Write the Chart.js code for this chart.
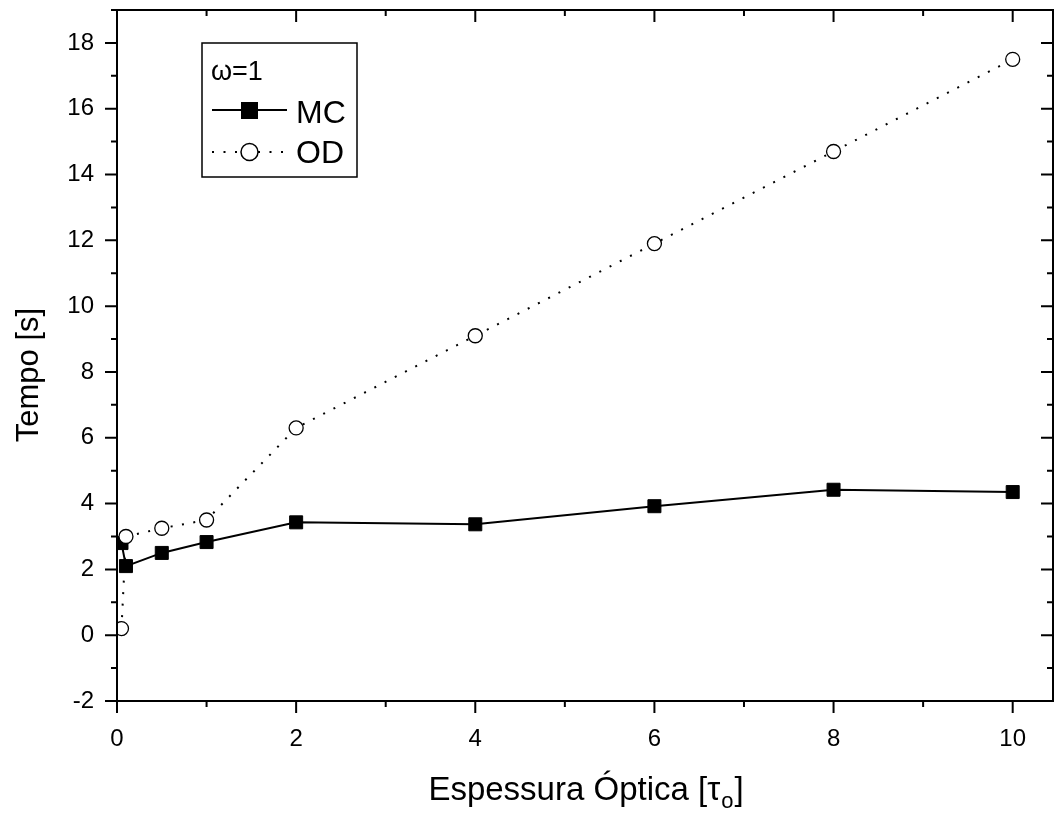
<!DOCTYPE html>
<html>
<head>
<meta charset="utf-8">
<script src="https://cdn.jsdelivr.net/npm/chart.js@4.4.0/dist/chart.umd.min.js"></script>
<style>
  html, body { margin: 0; padding: 0; background: #fff; }
  #wrap { width: 1054px; height: 814px; }
</style>
</head>
<body>
<div id="wrap"><canvas id="myChart" width="1054" height="814"></canvas></div>
<script>
// optical thickness values and computing times
var tau = [0.05, 0.1, 0.5, 1, 2, 4, 6, 8, 10];
var tempoMC = [2.8, 2.1, 2.5, 2.83, 3.43, 3.37, 3.92, 4.42, 4.35];
var tempoOD = [0.2, 3.0, 3.25, 3.5, 6.3, 9.1, 11.9, 14.7, 17.5];

var xTicks = [0, 2, 4, 6, 8, 10];
var yTicks = [-2, 0, 2, 4, 6, 8, 10, 12, 14, 16, 18];

var FONT = '"Liberation Sans", Arial, sans-serif';

function pts(xs, ys) {
  var out = [];
  for (var i = 0; i < xs.length; i++) out.push({x: xs[i], y: ys[i]});
  return out;
}

// frame, minor/major ticks, titles and the legend box
var frame = {
  id: 'frame',
  afterDraw: function(chart) {
    var ctx = chart.ctx;
    var a = chart.chartArea;
    var sx = chart.scales.x, sy = chart.scales.y;
    ctx.save();
    ctx.strokeStyle = '#000';
    ctx.lineWidth = 2;
    ctx.strokeRect(a.left, a.top, a.right - a.left, a.bottom - a.top);

    ctx.beginPath();
    for (var v = 0; v <= sx.max; v += 1) {
      var px = sx.getPixelForValue(v);
      var len = (v % 2 === 0) ? 12 : 6;
      ctx.moveTo(px, a.bottom); ctx.lineTo(px, a.bottom + len);
      ctx.moveTo(px, a.top); ctx.lineTo(px, a.top + len);
    }
    for (var w = -2; w <= sy.max; w += 1) {
      var py = sy.getPixelForValue(w);
      var l2 = (Math.abs(w) % 2 === 0) ? 12 : 6;
      ctx.moveTo(a.left, py); ctx.lineTo(a.left - l2, py);
      ctx.moveTo(a.right, py); ctx.lineTo(a.right - l2, py);
    }
    ctx.stroke();

    // x title with subscript
    ctx.fillStyle = '#000';
    ctx.textBaseline = 'alphabetic';
    ctx.textAlign = 'left';
    var t1 = 'Espessura Óptica [\u03C4', t2 = 'o', t3 = ']';
    ctx.font = '33px ' + FONT;
    var w1 = ctx.measureText(t1).width, w3 = ctx.measureText(t3).width;
    ctx.font = '22px ' + FONT;
    var w2 = ctx.measureText(t2).width;
    var x0 = (a.left + a.right) / 2 - (w1 + w2 + w3) / 2;
    ctx.font = '33px ' + FONT;
    ctx.fillText(t1, x0, 800);
    ctx.font = '22px ' + FONT;
    ctx.fillText(t2, x0 + w1 + 1, 808);
    ctx.font = '33px ' + FONT;
    ctx.fillText(t3, x0 + w1 + w2 + 2, 800);

    // y title
    ctx.save();
    ctx.translate(38, 375);
    ctx.rotate(-Math.PI / 2);
    ctx.textAlign = 'center';
    ctx.font = '31px ' + FONT;
    ctx.fillText('Tempo [s]', 0, 0);
    ctx.restore();

    // legend
    ctx.fillStyle = '#fff';
    ctx.fillRect(202, 43, 155, 134);
    ctx.lineWidth = 1.5;
    ctx.strokeRect(202, 43, 155, 134);
    ctx.fillStyle = '#000';
    ctx.font = '27px ' + FONT;
    ctx.fillText('\u03C9=1', 211, 80);

    ctx.lineWidth = 2;
    ctx.beginPath();
    ctx.moveTo(212, 110); ctx.lineTo(287, 110);
    ctx.stroke();
    ctx.fillRect(241, 102, 17, 17);

    ctx.setLineDash([2, 9.5]);
    ctx.beginPath();
    ctx.moveTo(212, 152); ctx.lineTo(287, 152);
    ctx.stroke();
    ctx.setLineDash([]);
    ctx.beginPath();
    ctx.arc(249.5, 152, 8.5, 0, Math.PI * 2);
    ctx.fillStyle = '#fff';
    ctx.fill();
    ctx.lineWidth = 1.5;
    ctx.stroke();

    ctx.fillStyle = '#000';
    ctx.font = '32px ' + FONT;
    ctx.fillText('MC', 296, 123);
    ctx.fillText('OD', 296, 163);
    ctx.restore();
  }
};

const ctx = document.getElementById('myChart').getContext('2d');
const myChart = new Chart(ctx, {
  type: 'line',
  data: {
    datasets: [{
      label: 'MC',
      data: pts(tau, tempoMC),
      borderColor: '#000',
      borderWidth: 2,
      pointStyle: 'rect',
      pointRadius: 9.2,
      pointBackgroundColor: '#000',
      pointBorderColor: '#000',
      pointBorderWidth: 1,
      order: 1
    }, {
      label: 'OD',
      data: pts(tau, tempoOD),
      borderColor: '#000',
      borderWidth: 2,
      borderDash: [2, 9.5],
      pointStyle: 'circle',
      pointRadius: 7,
      pointBackgroundColor: '#fff',
      pointBorderColor: '#000',
      pointBorderWidth: 1.3,
      order: 0
    }]
  },
  options: {
    responsive: false,
    animation: false,
    devicePixelRatio: 1,
    layout: { autoPadding: false, padding: { top: 10, right: 1, left: 0, bottom: 0 } },
    plugins: { legend: { display: false }, tooltip: { enabled: false } },
    scales: {
      x: {
        type: 'linear',
        min: 0,
        max: 10.45,
        afterFit: function(s) { s.height = 113; s.paddingLeft = 0; s.paddingRight = 0; },
        afterBuildTicks: function(s) { s.ticks = xTicks.map(function(v) { return {value: v}; }); },
        grid: { display: false, drawTicks: false },
        border: { display: false },
        ticks: { color: '#000', font: { family: FONT, size: 24 }, padding: 24 }
      },
      y: {
        min: -2,
        max: 19,
        afterFit: function(s) { s.width = 117; s.paddingTop = 0; s.paddingBottom = 0; },
        afterBuildTicks: function(s) { s.ticks = yTicks.map(function(v) { return {value: v}; }); },
        grid: { display: false, drawTicks: false },
        border: { display: false },
        ticks: { color: '#000', font: { family: FONT, size: 24 }, padding: 23 }
      }
    }
  },
  plugins: [frame]
});
</script>
</body>
</html>
